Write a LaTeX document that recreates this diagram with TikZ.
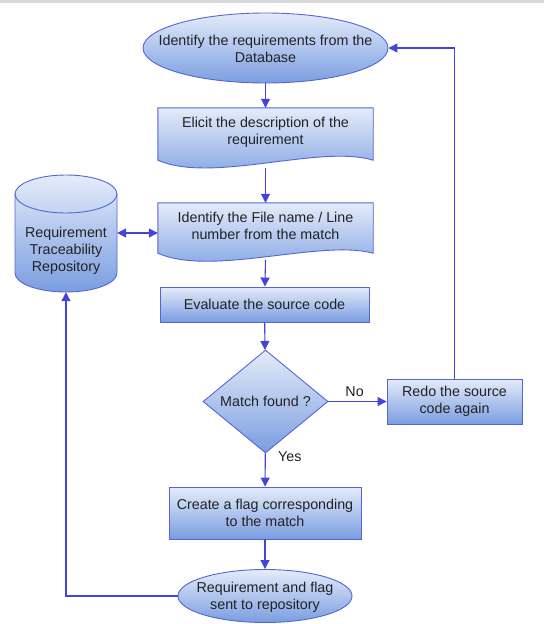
\documentclass[tikz,border=0pt]{standalone}
\usepackage{fontspec}
\setmainfont{Liberation Sans}
\usetikzlibrary{shapes.geometric,arrows.meta}
\definecolor{fillTop}{HTML}{E4ECFA}
\definecolor{fillBot}{HTML}{7A9DE0}
\definecolor{edge}{HTML}{5566D4}
\definecolor{conn}{HTML}{4444D8}
\definecolor{txt}{HTML}{222222}
\tikzset{
  shaded/.style={top color=fillTop, bottom color=fillBot, draw=edge, line width=0.9pt},
  lbl/.style={text=txt, font=\fontsize{14.3}{17}\selectfont, align=center},
  procbox/.style={shaded, lbl, rectangle, inner sep=0pt},
  termell/.style={shaded, ellipse, inner sep=0pt},
  decide/.style={shaded, lbl, diamond, inner sep=0pt},
  holder/.style={lbl, rectangle, inner sep=0pt},
  conn/.style={draw=conn, line width=1.1pt, -{Triangle[length=9pt,width=9pt]}},
  conn2/.style={draw=conn, line width=1.1pt, {Triangle[length=9pt,width=9pt]}-{Triangle[length=9pt,width=9pt]}},
  edgetext/.style={text=txt, font=\fontsize{14.3}{17}\selectfont}
}
\begin{document}
\begin{tikzpicture}[x=1pt,y=-1pt]
\useasboundingbox (0,0) rectangle (544,624);
\fill[white] (0,0) rectangle (544,624);
\fill[black!15] (0,0) rectangle (544,3);

% top ellipse
\node[termell, minimum width=245pt, minimum height=70pt] (ident) at (265.5,48) {};
\node[lbl] at (265.5,49) {Identify the requirements from the\\Database};

% document 1
\node[holder, minimum width=215pt, minimum height=52pt] (elicit) at (265.5,134) {};
\path[shaded] (elicit.north west) -- (elicit.north east) -- (elicit.south east)
  .. controls (320,144) and (212,184) .. (elicit.south west) -- cycle;
\node[lbl] at (265.5,132) {Elicit the description of the\\requirement};

% document 2
\node[holder, minimum width=215pt, minimum height=50pt] (file) at (265.5,228) {};
\path[shaded] (file.north west) -- (file.north east) -- (file.south east)
  .. controls (320,239) and (212,277) .. (file.south west) -- cycle;
\node[lbl] at (265.5,226) {Identify the File name / Line\\number from the match};

% cylinder
\node[holder, minimum width=102pt, minimum height=117pt] (repo) at (66,233.5) {};
\path[shaded] (15,194) arc[start angle=180, end angle=0, x radius=51, y radius=-19]
  -- (117,273) arc[start angle=0, end angle=-180, x radius=51, y radius=-19] -- cycle;
\draw[edge, line width=0.9pt] (15,194) arc[start angle=180, end angle=360, x radius=51, y radius=-19];
\node[lbl] at (66,251) {Requirement\\Traceability\\Repository};

% evaluate
\node[procbox, minimum width=209pt, minimum height=35pt] (eval) at (264.5,304.5) {Evaluate the source code};

% diamond
\node[decide, minimum width=125pt, minimum height=103pt] (match) at (265.5,401.5) {Match found ?};

% redo
\node[procbox, minimum width=135pt, minimum height=45pt] (redo) at (454.5,401.5) {Redo the source\\code again};

% create flag
\node[procbox, minimum width=192pt, minimum height=52pt] (flag) at (265,513) {Create a flag corresponding\\to the match};

% final ellipse
\node[termell, minimum width=174pt, minimum height=53pt] (sent) at (265,596) {};
\node[lbl] at (265,597) {Requirement and flag\\sent to repository};

% connectors
\draw[conn] (ident) -- (elicit);
\coordinate (elicitout) at (265.5,168);
\draw[conn] (elicitout) -- (file);
\coordinate (fileout) at (265.5,260);
\draw[conn] (fileout) -- (eval);
\draw[conn] (eval) -- (match);
\draw[conn] (match) -- node[edgetext, above, pos=0.45, yshift=1pt] {No} (redo);
\draw[conn] (match) -- node[edgetext, right, pos=0.1, xshift=9pt] {Yes} (flag);
\draw[conn] (flag) -- (sent);
\draw[conn] (redo.north) |- (ident.east);
\draw[conn] (sent.west) -| (repo.south);
\draw[conn2] (repo.east |- 0,233) -- (file.west |- 0,233);
\end{tikzpicture}
\end{document}
